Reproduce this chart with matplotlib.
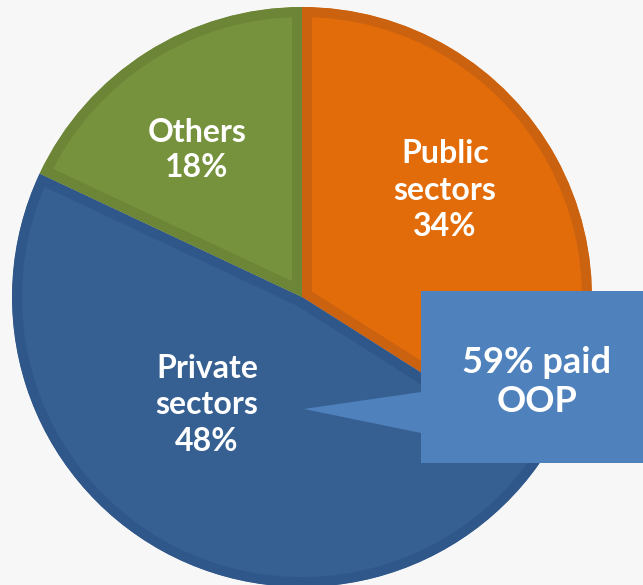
import matplotlib.pyplot as plt
from matplotlib.patches import Polygon

# share of spending, clockwise from 12 o'clock
sectors = ['Public\nsectors', 'Private\nsectors', 'Others']
shares = [34, 48, 18]
oop_share = 59

fillC = ['#E36C0A', '#366092', '#76923C']
edgeC = ['#CB6210', '#30578A', '#6D8536']
bg = '#F7F7F7'

W, H = 643, 585
fig = plt.figure(figsize=(W/100, H/100), dpi=100, facecolor=bg)
ax = fig.add_axes([0, 0, 1, 1])
ax.set_facecolor(bg)

cx, cy, r = 302, H-297, 290
wedges, _ = ax.pie(shares, colors=fillC, startangle=90, counterclock=False,
                   center=(cx, cy), radius=r, frame=True)
for w, ec in zip(wedges, edgeC):
    w.set_edgecolor(ec)
    w.set_linewidth(14.4)   # only the inner half survives the clip
    w.set_clip_on(True)
    w.set_clip_path(w.get_path(), ax.transData)

ax.set_xlim(0, W)
ax.set_ylim(0, H)
ax.set_aspect('equal')
ax.axis('off')

# label spots in pixel coords (x, y from top)
labelPos = [(445, 190), (207, 405), (197, 150)]
lineSp = [1.32, 1.30, 1.22]
for name, v, (x, y), ls in zip(sectors, shares, labelPos, lineSp):
    ax.text(x, H-y, f'{name}\n{v}%', ha='center', va='center',
            color='white', fontsize=23, fontweight='bold', family='Lato',
            linespacing=ls)

# callout box with pointer into the private slice
box = Polygon([(421, H-291), (643, H-291), (643, H-463), (421, H-463),
               (421, H-433), (304, H-409), (421, H-392)],
              closed=True, facecolor='#4F81BD', edgecolor='none', zorder=5)
ax.add_patch(box)
ax.text(537, H-382, f'{oop_share}% paid\nOOP', ha='center', va='center',
        color='white', fontsize=26, fontweight='bold', family='Lato',
        linespacing=1.23, zorder=6)

plt.savefig('out.png', dpi=100, facecolor=bg)
